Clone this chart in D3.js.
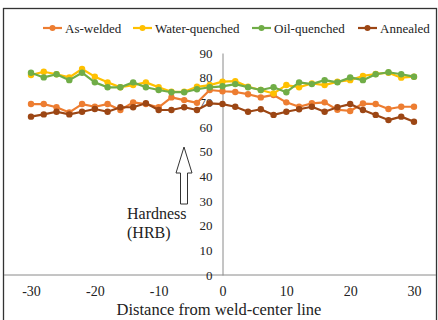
<!DOCTYPE html>
<html>
<head>
<meta charset="utf-8">
<script src="https://cdn.jsdelivr.net/npm/d3@7"></script>
<style>
  body { margin: 0; background: #fff; }
  svg text { font-family: "Liberation Serif", "Times New Roman", serif; fill: #222; }
</style>
</head>
<body>
<div id="chart"></div>
<script>
// -------------------------------------------------------------------------
// Data (distance from weld-center line, hardness HRB)

const distances = d3.range(-30, 31, 2);

const asWelded = [69.3, 69.3, 68.0, 65.9, 69.3, 68.2, 69.3, 66.9, 70.0, 69.3, 68.0, 72.0, 70.9, 69.8, 75.0,
  74.5, 74.2, 73.3, 72.0, 73.0, 70.0, 68.2, 69.6, 70.0, 67.0, 66.5, 69.5, 69.3, 67.3, 68.2, 68.2];
const waterQuenched = [81.1, 82.4, 81.4, 80.1, 83.5, 80.4, 78.1, 76.1, 77.0, 78.1, 76.1, 74.3, 74.3, 76.3, 77.0,
  78.4, 78.6, 76.3, 75.0, 73.6, 77.0, 76.1, 77.7, 77.0, 78.4, 79.0, 80.7, 81.5, 82.0, 80.0, 80.4];
const oilQuenched = [82.0, 80.1, 81.4, 79.0, 82.0, 78.1, 76.1, 76.1, 78.1, 76.1, 75.0, 74.1, 74.1, 75.3, 76.1,
  76.5, 77.4, 76.1, 75.0, 76.1, 74.1, 78.1, 77.4, 79.0, 78.1, 80.1, 79.0, 81.4, 82.2, 81.4, 80.4];
const annealed = [64.2, 65.1, 66.2, 65.1, 66.2, 67.3, 66.2, 68.0, 68.0, 69.6, 66.9, 66.9, 68.0, 66.9, 69.6,
  69.3, 68.2, 66.2, 67.2, 64.9, 66.2, 67.2, 68.2, 66.2, 68.0, 69.3, 66.9, 64.9, 62.8, 64.2, 62.1];

const seriesNames = ['As-welded', 'Water-quenched', 'Oil-quenched', 'Annealed'];
const seriesColors = ['#ed7d31', '#ffc000', '#70ad47', '#9c4614'];
const xTicks = [-30, -20, -10, 0, 10, 20, 30];
const yTicks = [0, 10, 20, 30, 40, 50, 60, 70, 80, 90];

const series = [asWelded, waterQuenched, oilQuenched, annealed].map((vals, i) => ({
  name: seriesNames[i],
  color: seriesColors[i],
  points: vals.map((v, j) => ({ x: distances[j], y: v }))
}));

// -------------------------------------------------------------------------
// Layout

const width = 438, height = 320;

const svg = d3.select('#chart').append('svg')
  .attr('width', width)
  .attr('height', height);

const x = d3.scaleLinear().domain([-30, 30]).range([31, 414]);
const y = d3.scaleLinear().domain([0, 90]).range([275, 53]);

// outer frame
svg.append('rect')
  .attr('x', 3.5).attr('y', 8.5)
  .attr('width', 433).attr('height', 330)
  .attr('fill', 'none')
  .attr('stroke', '#333')
  .attr('stroke-width', 1.3);

// x axis (line spans the whole frame)
svg.append('line')
  .attr('x1', 4).attr('x2', 436)
  .attr('y1', y(0)).attr('y2', y(0))
  .attr('stroke', '#8a8a8a');

const xAxis = svg.append('g')
  .attr('transform', `translate(0,${y(0)})`)
  .call(d3.axisBottom(x).tickValues(xTicks).tickSize(0).tickPadding(11)
    .tickFormat(d => String(d)));
xAxis.select('.domain').remove();
xAxis.selectAll('text').attr('font-size', 14).style('font-family', '"Liberation Serif", serif').attr('fill', '#222');

// y axis at x = 0
const yAxis = svg.append('g')
  .attr('transform', `translate(${x(0)},0)`)
  .call(d3.axisLeft(y).tickValues(yTicks).tickSize(0).tickPadding(10)
    .tickFormat(d => String(d)));
yAxis.select('.domain').attr('stroke', '#8a8a8a');
yAxis.selectAll('text').attr('font-size', 13).style('font-family', '"Liberation Serif", serif').attr('fill', '#222');

// axis title
svg.append('text')
  .attr('x', 219).attr('y', 315)
  .attr('text-anchor', 'middle')
  .attr('font-size', 16.5)
  .text('Distance from weld-center line');

// hardness label with hollow arrow
svg.append('text').attr('x', 127).attr('y', 219).attr('font-size', 16).text('Hardness');
svg.append('text').attr('x', 127).attr('y', 238).attr('font-size', 16).text('(HRB)');

svg.append('path')
  .attr('d', 'M184,147 L176,173 L180.5,173 L180.5,204 L187.5,204 L187.5,173 L192,173 Z')
  .attr('fill', '#fff')
  .attr('stroke', '#333')
  .attr('stroke-width', 1);

// -------------------------------------------------------------------------
// Lines

const line = d3.line()
  .x(d => x(d.x))
  .y(d => y(d.y));

const g = svg.append('g');

series.forEach(s => {
  g.append('path')
    .datum(s.points)
    .attr('fill', 'none')
    .attr('stroke', s.color)
    .attr('stroke-width', 2.2)
    .attr('stroke-linejoin', 'round')
    .attr('d', line);

  g.selectAll(null)
    .data(s.points)
    .enter().append('circle')
    .attr('cx', d => x(d.x))
    .attr('cy', d => y(d.y))
    .attr('r', 3.2)
    .attr('fill', s.color);
});

// -------------------------------------------------------------------------
// Legend

const legendX = [43, 133, 252, 358];
const legend = svg.append('g');

series.forEach((s, i) => {
  const lg = legend.append('g').attr('transform', `translate(${legendX[i]},28)`);
  lg.append('line')
    .attr('x1', 0).attr('x2', 19)
    .attr('stroke', s.color)
    .attr('stroke-width', 2.2);
  lg.append('circle')
    .attr('cx', 9.5).attr('r', 3)
    .attr('fill', s.color);
  lg.append('text')
    .attr('x', 22).attr('dy', '0.35em')
    .attr('font-size', 13)
    .text(s.name);
});
</script>
</body>
</html>
